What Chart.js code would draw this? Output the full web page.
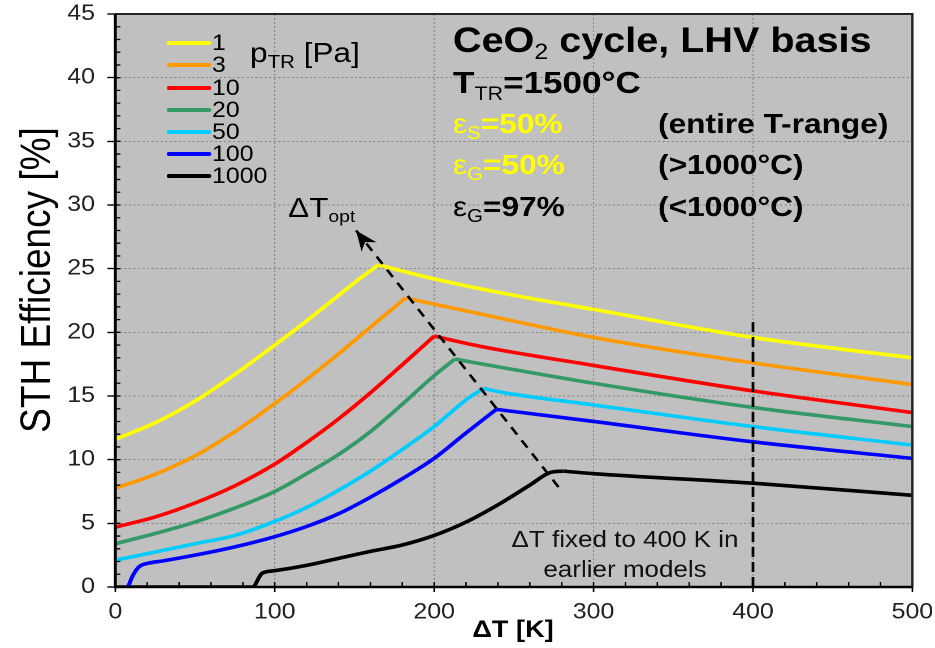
<!DOCTYPE html>
<html>
<head>
<meta charset="utf-8">
<script src="https://cdn.jsdelivr.net/npm/chart.js@4.4.1/dist/chart.umd.min.js"></script>
<style>
  html, body { margin: 0; padding: 0; background: #fff; }
</style>
</head>
<body>
<canvas id="sthChart" width="827" height="648" style="width:935px;height:648px"></canvas>
<script>
// the original figure is stretched sideways, so the canvas is drawn narrower and scaled up by css
var SX = 935 / 827;
var FONT = '"Liberation Sans", Arial, sans-serif';

// thermal reduction pressure per curve
var pressures = ['1', '3', '10', '20', '50', '100', '1000'];
var colors = ['#ffff00', '#ff9900', '#ff0000', '#339966', '#00ccff', '#0000ff', '#000000'];

// deltaT [K] and STH efficiency [%]
var dT_p1 = [0, 25, 50, 75, 100, 120, 140, 150, 165, 200, 242, 300, 400, 500];
var eff_p1 = [11.6, 12.9, 14.6, 16.7, 19.0, 20.9, 22.9, 23.9, 25.3, 24.2, 23.1, 21.8, 19.6, 18.0];

var dT_p3 = [0, 25, 50, 75, 100, 120, 140, 160, 182, 242, 300, 400, 500];
var eff_p3 = [7.75, 8.85, 10.3, 12.2, 14.4, 16.3, 18.3, 20.4, 22.7, 21.1, 19.6, 17.6, 15.9];

var dT_p10 = [0, 25, 50, 75, 100, 120, 140, 160, 180, 200, 229, 300, 400, 500];
var eff_p10 = [4.7, 5.5, 6.6, 7.95, 9.65, 11.35, 13.2, 15.25, 17.45, 19.7, 18.9, 17.4, 15.4, 13.7];

var dT_p20 = [0, 25, 50, 75, 100, 120, 140, 160, 180, 200, 213, 242, 300, 400, 500];
var eff_p20 = [3.4, 4.2, 5.1, 6.2, 7.5, 8.9, 10.4, 12.2, 14.35, 16.6, 17.9, 17.25, 16.0, 14.1, 12.6];

var dT_p50 = [0, 25, 50, 75, 100, 120, 140, 160, 180, 200, 220, 231, 242, 300, 400, 500];
var eff_p50 = [2.1, 2.75, 3.4, 4.05, 5.15, 6.25, 7.6, 9.1, 10.8, 12.6, 14.7, 15.6, 15.3, 14.3, 12.6, 11.15];

var dT_p100 = [8, 11, 15, 20, 30, 50, 75, 100, 120, 140, 160, 180, 200, 220, 239, 300, 400, 500];
var eff_p100 = [0, 0.9, 1.6, 1.85, 2.05, 2.5, 3.15, 3.95, 4.75, 5.75, 7.05, 8.5, 10.1, 12.1, 13.95, 13.0, 11.4, 10.1];

var dT_p1000 = [0, 86, 92, 100, 120, 140, 160, 180, 200, 220, 242, 260, 273, 281, 300, 400, 500];
var eff_p1000 = [0, 0, 1.07, 1.28, 1.7, 2.25, 2.8, 3.3, 4.05, 5.1, 6.6, 8.0, 9.0, 9.1, 8.9, 8.15, 7.2];

// dashed guide lines: optimum trend arrow and the old fixed 400 K
var optX = [278, 151];
var optY = [7.85, 28.0];
var fixX = [400, 400];
var fixY = [0, 20.8];

var xTicks = [0, 100, 200, 300, 400, 500];
var yTicks = [0, 5, 10, 15, 20, 25, 30, 35, 40, 45];

var seriesX = [dT_p1, dT_p3, dT_p10, dT_p20, dT_p50, dT_p100, dT_p1000];
var seriesY = [eff_p1, eff_p3, eff_p10, eff_p20, eff_p50, eff_p100, eff_p1000];

function pts(xs, ys) {
  return xs.map(function (x, j) { return { x: x, y: ys[j] }; });
}

// each curve is split at its maximum so the kink stays sharp while both sides are smoothed
var datasets = [];
seriesX.forEach(function (xs, i) {
  var ys = seriesY[i];
  var peak = ys.indexOf(Math.max.apply(null, ys));
  var all = pts(xs, ys);
  [all.slice(0, peak + 1), all.slice(peak)].forEach(function (part) {
    datasets.push({
      label: pressures[i],
      data: part,
      borderColor: colors[i],
      borderWidth: 3.6,
      pointRadius: 0,
      cubicInterpolationMode: 'monotone',
      fill: false,
      order: 1
    });
  });
});
var optIndex = datasets.length;
datasets.push({ label: 'opt', data: pts(optX, optY), borderColor: '#000', borderWidth: 2.4,
  borderDash: [9, 7], pointRadius: 0, fill: false, order: 0 });
datasets.push({ label: 'fixed', data: pts(fixX, fixY), borderColor: '#000', borderWidth: 2.4,
  borderDash: [10, 5], pointRadius: 0, fill: false, order: 0 });

// write a run of text pieces (for subscripts)
function rich(ctx, x, y, parts) {
  var cx = x;
  parts.forEach(function (p) {
    ctx.font = p.font;
    ctx.fillStyle = p.color || '#000';
    ctx.fillText(p.t, cx, y + (p.dy || 0));
    cx += ctx.measureText(p.t).width;
  });
}

function f(size, bold) {
  return (bold ? 'bold ' : '') + size + 'px ' + FONT;
}

var decor = {
  id: 'decor',
  beforeDraw: function (chart) {
    var ctx = chart.ctx, ca = chart.chartArea;
    ctx.save();
    ctx.fillStyle = '#fff';
    ctx.fillRect(0, 0, chart.width, chart.height);
    ctx.fillStyle = '#c0c0c0';
    ctx.fillRect(ca.left, ca.top, ca.right - ca.left, ca.bottom - ca.top);
    ctx.restore();
  },
  afterDatasetsDraw: function (chart) {
    // arrow head on the optimum line
    var ctx = chart.ctx;
    var meta = chart.getDatasetMeta(optIndex);
    var p0 = meta.data[0], p1 = meta.data[1];
    var a = Math.atan2(p1.y - p0.y, p1.x - p0.x);
    var len = 20, hw = 8;
    ctx.save();
    ctx.fillStyle = '#000';
    ctx.beginPath();
    ctx.moveTo(p1.x, p1.y);
    ctx.lineTo(p1.x - len * Math.cos(a) + hw * Math.sin(a), p1.y - len * Math.sin(a) - hw * Math.cos(a));
    ctx.lineTo(p1.x - len * Math.cos(a) * 0.7, p1.y - len * Math.sin(a) * 0.7);
    ctx.lineTo(p1.x - len * Math.cos(a) - hw * Math.sin(a), p1.y - len * Math.sin(a) + hw * Math.cos(a));
    ctx.closePath();
    ctx.fill();
    ctx.restore();
  },
  afterDraw: function (chart) {
    var ctx = chart.ctx, ca = chart.chartArea;
    var xs = chart.scales.x, ys = chart.scales.y;
    ctx.save();

    // inner ticks
    ctx.strokeStyle = '#000';
    ctx.lineWidth = 1.3;
    ctx.beginPath();
    for (var v = 0; v <= 45; v += 1) {
      var py = ys.getPixelForValue(v);
      ctx.moveTo(ca.left, py);
      ctx.lineTo(ca.left + 4.5, py);
    }
    for (var u = 0; u <= 500; u += 20) {
      var px = xs.getPixelForValue(u);
      ctx.moveTo(px, ca.bottom);
      ctx.lineTo(px, ca.bottom - 5);
    }
    ctx.stroke();

    // frame
    ctx.lineWidth = 2;
    ctx.strokeStyle = '#222';
    ctx.beginPath();
    ctx.moveTo(ca.left, ca.top);
    ctx.lineTo(ca.right, ca.top);
    ctx.lineTo(ca.right, ca.bottom);
    ctx.stroke();
    ctx.lineWidth = 2.6;
    ctx.strokeStyle = '#000';
    ctx.beginPath();
    ctx.moveTo(ca.left, ca.top);
    ctx.lineTo(ca.left, ca.bottom);
    ctx.lineTo(ca.right, ca.bottom);
    ctx.stroke();

    // legend
    var rows = [43, 65, 88, 110, 132, 154, 176];
    ctx.lineWidth = 4;
    ctx.lineCap = 'round';
    rows.forEach(function (ry, i) {
      ctx.strokeStyle = colors[i];
      ctx.beginPath();
      ctx.moveTo(169 / SX, ry);
      ctx.lineTo(209 / SX, ry);
      ctx.stroke();
    });
    ctx.lineCap = 'butt';
    ctx.textBaseline = 'middle';
    ctx.textAlign = 'left';
    ctx.fillStyle = '#000';
    ctx.font = f(22, false);
    rows.forEach(function (ry, i) {
      ctx.fillText(pressures[i], 212 / SX, ry + 1);
    });

    ctx.textBaseline = 'alphabetic';
    rich(ctx, 250 / SX, 62, [
      { t: 'p', font: f(28, false) },
      { t: 'TR', font: f(18, false), dy: 6 },
      { t: ' [Pa]', font: f(28, false) }
    ]);

    // conditions block
    var bx = 453 / SX, px2 = 658 / SX, yel = '#ffff00';
    rich(ctx, bx, 52, [
      { t: 'CeO', font: f(35, true) },
      { t: '2', font: f(22, false), dy: 7 },
      { t: ' cycle, LHV basis', font: f(35, true) }
    ]);
    rich(ctx, bx, 93, [
      { t: 'T', font: f(31, true) },
      { t: 'TR', font: f(19, false), dy: 7 },
      { t: '=1500\u00B0C', font: f(31, true) }
    ]);
    rich(ctx, bx, 133, [
      { t: '\u03B5', font: f(28, false), color: yel },
      { t: 'S', font: f(18, false), color: yel, dy: 6 },
      { t: '=50%', font: f(28, true), color: yel }
    ]);
    rich(ctx, px2, 133, [{ t: '(entire T-range)', font: f(28, true) }]);
    rich(ctx, bx, 174, [
      { t: '\u03B5', font: f(28, false), color: yel },
      { t: 'G', font: f(18, false), color: yel, dy: 6 },
      { t: '=50%', font: f(28, true), color: yel }
    ]);
    rich(ctx, px2, 174, [{ t: '(>1000\u00B0C)', font: f(28, true) }]);
    rich(ctx, bx, 216, [
      { t: '\u03B5', font: f(28, false) },
      { t: 'G', font: f(18, false), dy: 6 },
      { t: '=97%', font: f(28, true) }
    ]);
    rich(ctx, px2, 216, [{ t: '(<1000\u00B0C)', font: f(28, true) }]);

    // annotations
    rich(ctx, 288 / SX, 217, [
      { t: '\u0394T', font: f(28, false) },
      { t: 'opt', font: f(17, false), dy: 5 }
    ]);
    ctx.textAlign = 'center';
    ctx.fillStyle = '#111';
    ctx.font = f(23, false);
    ctx.fillText('\u0394T fixed to 400 K in', 625 / SX, 547);
    ctx.fillText('earlier models', 625 / SX, 577);

    // axis titles
    ctx.fillStyle = '#000';
    ctx.font = f(24, true);
    ctx.fillText('\u0394T [K]', 513 / SX, 637);
    ctx.translate(50 / SX, 280);
    ctx.rotate(-Math.PI / 2);
    ctx.font = f(37, false);
    ctx.fillText('STH Efficiency [%]', 0, 0);

    ctx.restore();
  }
};

var ctx = document.getElementById('sthChart').getContext('2d');
var sthChart = new Chart(ctx, {
  type: 'line',
  data: { datasets: datasets },
  options: {
    responsive: false,
    animation: false,
    devicePixelRatio: 2,
    layout: { padding: { top: 14, right: 20, left: 0, bottom: 0 } },
    plugins: { legend: { display: false }, tooltip: { enabled: false } },
    scales: {
      x: {
        type: 'linear',
        min: 0,
        max: 500,
        afterFit: function (s) { s.height = 61; s.paddingLeft = 0; s.paddingRight = 0; },
        afterBuildTicks: function (s) { s.ticks = xTicks.map(function (v) { return { value: v }; }); },
        ticks: { color: '#222', font: { family: FONT, size: 22 }, padding: 7, maxRotation: 0 },
        grid: { color: '#8a8a8a', lineWidth: 1, tickLength: 5, tickColor: '#000', tickWidth: 1.4 },
        border: { display: false, dash: [2, 2] }
      },
      y: {
        type: 'linear',
        min: 0,
        max: 45,
        afterFit: function (s) { s.width = 102; s.paddingTop = 0; s.paddingBottom = 0; },
        afterBuildTicks: function (s) { s.ticks = yTicks.map(function (v) { return { value: v }; }); },
        ticks: { color: '#222', font: { family: FONT, size: 22 }, padding: 11 },
        grid: { color: '#8a8a8a', lineWidth: 1, tickLength: 7, tickColor: '#000', tickWidth: 1.4 },
        border: { display: false, dash: [2, 2] }
      }
    }
  },
  plugins: [decor]
});
</script>
</body>
</html>
